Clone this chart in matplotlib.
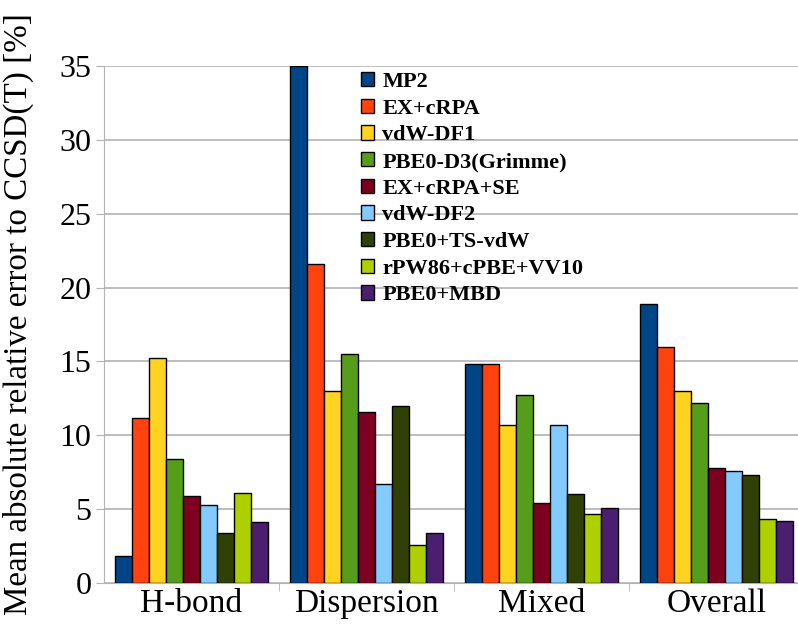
import matplotlib.pyplot as plt
import numpy as np

categories = ['H-bond', 'Dispersion', 'Mixed', 'Overall']
methods = ['MP2', 'EX+cRPA', 'vdW-DF1', 'PBE0-D3(Grimme)', 'EX+cRPA+SE',
           'vdW-DF2', 'PBE0+TS-vdW', 'rPW86+cPBE+VV10', 'PBE0+MBD']

# mean absolute relative error [%] per method, in the order of categories
mp2       = [1.8, 35.0, 14.8, 18.9]
ex_crpa   = [11.2, 21.6, 14.8, 16.0]
vdw_df1   = [15.2, 13.0, 10.7, 13.0]
pbe0_d3   = [8.4, 15.5, 12.7, 12.2]
ex_crpa_se = [5.9, 11.6, 5.4, 7.8]
vdw_df2   = [5.3, 6.7, 10.7, 7.6]
pbe0_ts   = [3.4, 12.0, 6.0, 7.3]
rpw86     = [6.1, 2.6, 4.7, 4.3]
pbe0_mbd  = [4.1, 3.4, 5.1, 4.2]

values = [mp2, ex_crpa, vdw_df1, pbe0_d3, ex_crpa_se, vdw_df2, pbe0_ts, rpw86, pbe0_mbd]
colors = ['#004586', '#ff420e', '#ffd320', '#579d1c', '#7e0021',
          '#83caff', '#314004', '#aecf00', '#4b1f6f']

plt.rcParams['font.family'] = ['Liberation Serif', 'DejaVu Serif']

fig = plt.figure(figsize=(7.98, 6.26), dpi=100)
ax = fig.add_axes([104 / 798, 43 / 626, 700 / 798, 517 / 626])

x = np.arange(len(categories))
w = 0.0975
for i, (vals, c) in enumerate(zip(values, colors)):
    pos = x - 4 * w + i * w
    ax.bar(pos, vals, width=w, color=c, edgecolor='black', linewidth=1.0,
           label=methods[i], zorder=3)

ax.set_xlim(-0.5, 3.5)
ax.set_ylim(0, 35)
ax.set_yticks(range(0, 36, 5))
ax.yaxis.grid(True, color='#b3b3b3', linewidth=1.2, zorder=0)
ax.set_axisbelow(True)

ax.set_xticks(x)
ax.set_xticklabels(categories, fontsize=24)
ax.set_xticks([0.5, 1.5, 2.5], minor=True)
ax.tick_params(axis='x', which='major', length=0, pad=4)
ax.tick_params(axis='x', which='minor', length=6, color='#b3b3b3')
ax.tick_params(axis='y', labelsize=23, length=6, color='#b3b3b3', pad=3)

for s in ['top', 'right']:
    ax.spines[s].set_visible(False)
for s in ['left', 'bottom']:
    ax.spines[s].set_color('#b3b3b3')

ax.set_ylabel('Mean absolute relative error to CCSD(T) [%]', fontsize=23.8)
ax.yaxis.set_label_coords(-0.100, 0.52)

leg = fig.legend(loc='upper left', bbox_to_anchor=(361 / 798, 1 - 72 / 626),
                 frameon=False, prop={'weight': 'bold', 'size': 16},
                 handlelength=0.6, handleheight=0.6, handletextpad=0.35,
                 labelspacing=0.3, borderpad=0, borderaxespad=0)

fig.savefig('out.png', dpi=100)
